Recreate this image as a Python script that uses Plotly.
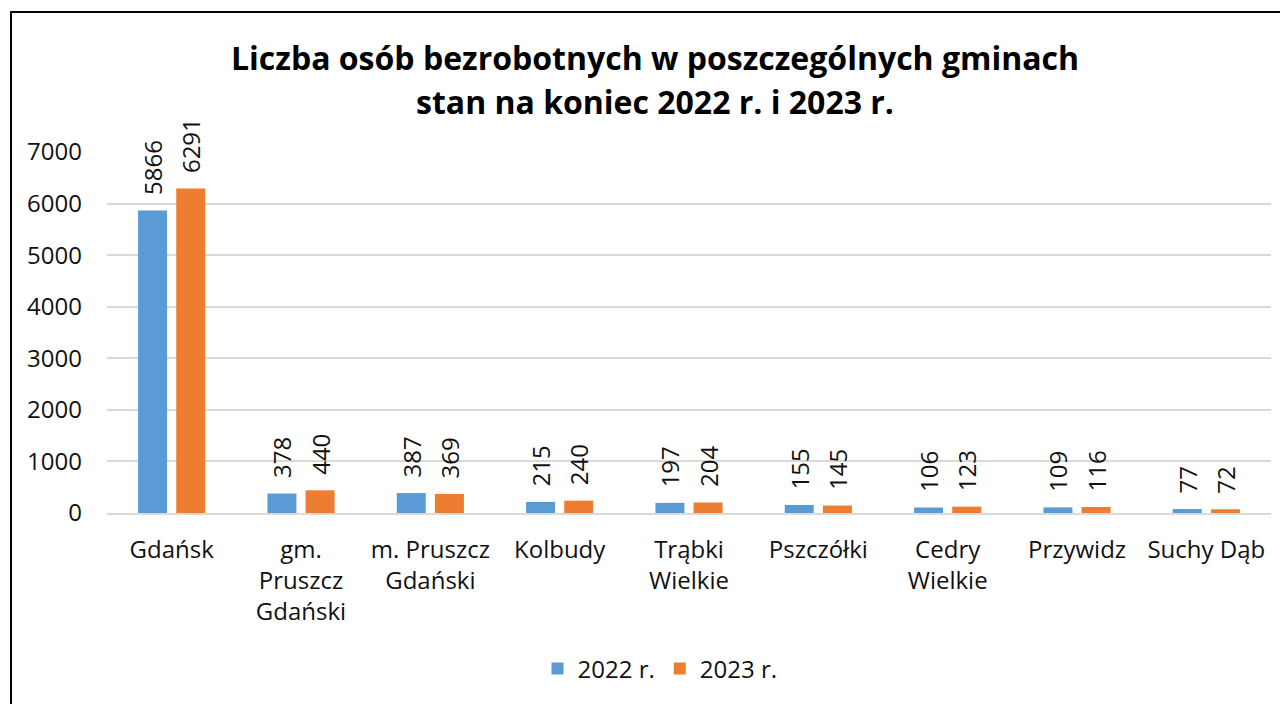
import plotly.graph_objects as go

categories = ["Gdańsk", "gm.<br>Pruszcz<br>Gdański", "m. Pruszcz<br>Gdański", "Kolbudy",
              "Trąbki<br>Wielkie", "Pszczółki", "Cedry<br>Wielkie", "Przywidz", "Suchy Dąb"]
values_2022 = [5866, 378, 387, 215, 197, 155, 106, 109, 77]
values_2023 = [6291, 440, 369, 240, 204, 145, 123, 116, 72]
series_names = ["2022 r.", "2023 r."]
y_ticks = [0, 1000, 2000, 3000, 4000, 5000, 6000, 7000]

W, H = 1288, 704
OFF = 8  # page body margin offset
# plot area in screen pixels
PX0, PX1, PY0, PY1 = 107, 1271, 152, 513
L, T = PX0 - OFF, PY0 - OFF
R, B = W - (PX1 - OFF), H - (PY1 - OFF)
pw, ph = PX1 - PX0, PY1 - PY0

FONT = "Open Sans"
TXT = "#111111"
FS = 24

def px_x(px):  # screen px -> paper
    return (px - PX0) / pw

def px_y(py):
    return (PY1 - py) / ph

fig = go.Figure()
for name, vals, col in [(series_names[0], values_2022, "#5B9BD5"),
                        (series_names[1], values_2023, "#ED7D31")]:
    fig.add_trace(go.Bar(
        x=categories, y=vals, name=name, marker=dict(color=col, line=dict(width=0)),
        text=["\u00a0\u00a0" + str(v) for v in vals], textposition="outside", textangle=-90,
        constraintext="none",
        textfont=dict(family=FONT, size=FS, color=TXT), cliponaxis=False,
    ))

fig.update_layout(
    width=W, height=H,
    margin=dict(l=L, r=R, t=T, b=B, autoexpand=False),
    paper_bgcolor="white", plot_bgcolor="white",
    barmode="group", bargap=0.41, bargroupgap=0.24,
    font=dict(family=FONT, size=FS, color=TXT),
    showlegend=True,
    legend=dict(orientation="h", x=px_x(660), xanchor="center", y=px_y(669), yanchor="middle",
                font=dict(family=FONT, size=FS, color=TXT), traceorder="normal"),
)
fig.update_yaxes(range=[0, 7000], tickvals=y_ticks, showgrid=True, gridcolor="#D9D9D9",
                 gridwidth=2, zeroline=False, showline=False, ticks="", ticklabelstandoff=24,
                 tickfont=dict(family=FONT, size=FS, color=TXT))
fig.update_xaxes(showline=True, linecolor="#D9D9D9", linewidth=2, ticks="",
                 tickfont=dict(family=FONT, size=FS, color=TXT), ticklabelstandoff=14)

fig.add_annotation(text="<b>Liczba osób bezrobotnych w poszczególnych gminach</b>",
                   xref="paper", yref="paper", x=px_x(655), y=px_y(57), xanchor="center",
                   yanchor="middle", showarrow=False, font=dict(family=FONT, size=32, color="#000"))
fig.add_annotation(text="<b>stan na koniec 2022 r. i 2023 r.</b>",
                   xref="paper", yref="paper", x=px_x(655), y=px_y(101), xanchor="center",
                   yanchor="middle", showarrow=False, font=dict(family=FONT, size=32, color="#000"))

# chart-area frame (partially outside the visible window)
fig.add_shape(type="line", xref="paper", yref="paper", x0=px_x(11), x1=px_x(11),
              y0=px_y(11), y1=px_y(730), line=dict(color="#000", width=2))
fig.add_shape(type="line", xref="paper", yref="paper", x0=px_x(11), x1=px_x(1310),
              y0=px_y(12), y1=px_y(12), line=dict(color="#000", width=2))

fig.write_html("out.html")
